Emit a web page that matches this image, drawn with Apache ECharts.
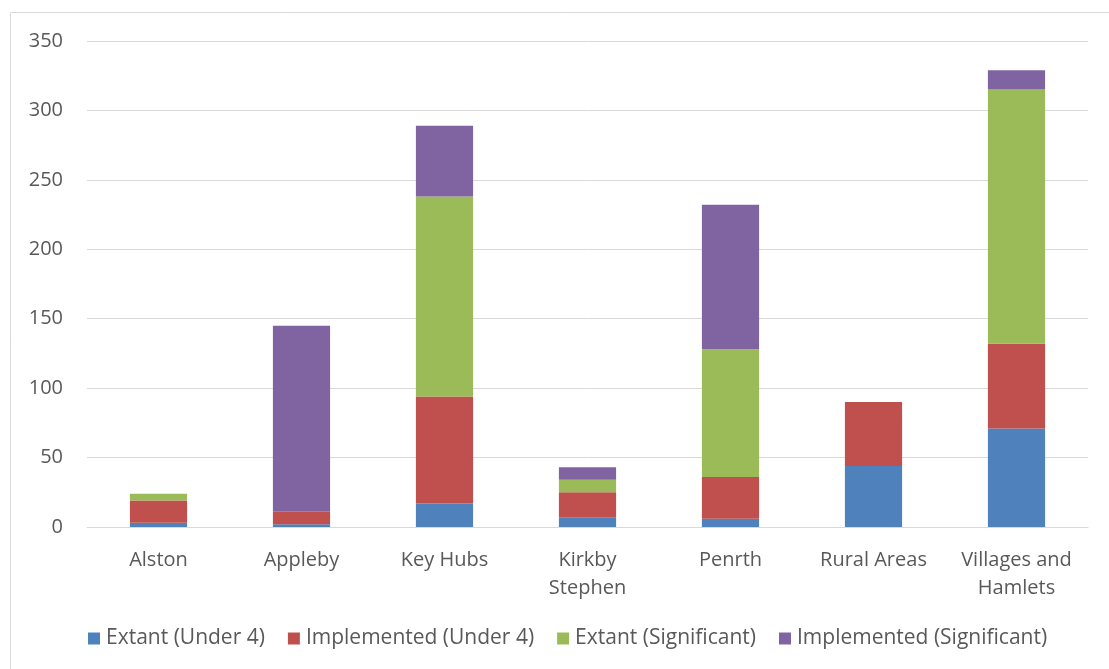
<!DOCTYPE html>
<html><head><meta charset="utf-8">
<script src="https://cdn.jsdelivr.net/npm/echarts@6/dist/echarts.min.js"></script>
<style>html,body{margin:0;padding:0;background:#fff}#c{width:1109px;height:669px}</style>
</head><body><div id="c"></div>
<script>
const categories = ['Alston', 'Appleby', 'Key Hubs', 'Kirkby\nStephen', 'Penrth', 'Rural Areas', 'Villages and\nHamlets'];
const extantUnder4 = [3, 2, 17, 7, 6, 44, 71];
const implementedUnder4 = [16, 9, 77, 18, 30, 46, 61];
const extantSignificant = [5, 0, 144, 9, 92, 0, 183];
const implementedSignificant = [0, 134, 51, 9, 104, 0, 14];
const seriesNames = ['Extant (Under 4)', 'Implemented (Under 4)', 'Extant (Significant)', 'Implemented (Significant)'];
const colors = ['#4f81bd', '#c0504d', '#9bbb59', '#8064a2'];
const font = '"Open Sans", "Liberation Sans", sans-serif';

const chart = echarts.init(document.getElementById('c'), null, {renderer: 'canvas'});
const mk = (name, data, i) => ({
  name, type: 'bar', stack: 'total', data, barWidth: '40%',
  itemStyle: {color: colors[i]}, emphasis: {disabled: true}
});
chart.setOption({
  animation: false,
  color: colors,
  graphic: [{type: 'rect', shape: {x: 10.5, y: 12.5, width: 1120, height: 700},
    style: {fill: 'none', stroke: '#d9d9d9', lineWidth: 1}, silent: true, z: -1}],
  grid: {left: 87, right: 21, top: 41, bottom: 142, containLabel: false},
  legend: {
    bottom: 15, left: 83, itemWidth: 12, itemHeight: 12, itemGap: 23,
    icon: 'rect',
    textStyle: {fontFamily: font, fontSize: 21, color: '#595959', padding: [0, 0, 0, 1]},
    data: seriesNames
  },
  xAxis: {
    type: 'category', data: categories,
    axisLine: {lineStyle: {color: '#d9d9d9', width: 1}},
    axisTick: {show: false},
    axisLabel: {fontFamily: font, fontSize: 20, color: '#595959', margin: 19, lineHeight: 28, interval: 0}
  },
  yAxis: {
    type: 'value', min: 0, max: 350, interval: 50,
    axisLine: {show: false}, axisTick: {show: false},
    splitLine: {lineStyle: {color: '#d9d9d9', width: 1}},
    axisLabel: {fontFamily: font, fontSize: 20, color: '#595959', margin: 24}
  },
  series: [
    mk(seriesNames[0], extantUnder4, 0),
    mk(seriesNames[1], implementedUnder4, 1),
    mk(seriesNames[2], extantSignificant, 2),
    mk(seriesNames[3], implementedSignificant, 3)
  ]
});
</script></body></html>
